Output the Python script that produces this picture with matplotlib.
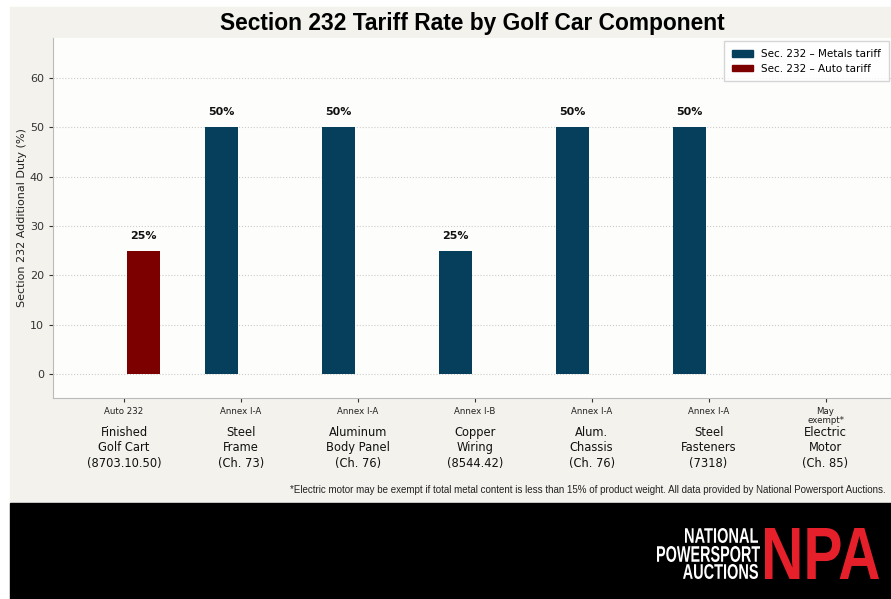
import matplotlib
matplotlib.use('Agg')
import matplotlib.pyplot as plt
from matplotlib.patches import Rectangle, Patch, PathPatch
from matplotlib.textpath import TextPath
from matplotlib.font_manager import FontProperties
from matplotlib.transforms import Affine2D, IdentityTransform
import numpy as np

# chart data
components = ['Finished\nGolf Cart\n(8703.10.50)', 'Steel\nFrame\n(Ch. 73)',
              'Aluminum\nBody Panel\n(Ch. 76)', 'Copper\nWiring\n(8544.42)',
              'Alum.\nChassis\n(Ch. 76)', 'Steel\nFasteners\n(7318)',
              'Electric\nMotor\n(Ch. 85)']
legal_basis = ['Auto 232', 'Annex I-A', 'Annex I-A', 'Annex I-B',
               'Annex I-A', 'Annex I-A', 'May\nexempt*']
metals_tariff = [0, 50, 50, 25, 50, 50, 0]
auto_tariff = [25, 0, 0, 0, 0, 0, 0]

metals_color = '#053f5c'
auto_color = '#7d0000'
bg_color = '#f3f2ed'

W, H = 891, 599
fig = plt.figure(figsize=(W / 100, H / 100), dpi=100)
fig.patch.set_facecolor('white')

# beige panel and black footer band
fig.patches.append(Rectangle((10 / W, 1 - 503 / H), 1, 496 / H,
                             transform=fig.transFigure, color=bg_color, zorder=-10))
fig.patches.append(Rectangle((10 / W, 0), 1, 96 / H,
                             transform=fig.transFigure, color='black', zorder=-10))

ax = fig.add_axes([53 / W, 1 - 398 / H, 1 - 53 / W, 360 / H])
ax.set_facecolor('#fdfdfc')

x = np.arange(len(components))
w = 0.28
off = 0.165
for i in range(len(x)):
    if metals_tariff[i] > 0:
        ax.bar(x[i] - off, metals_tariff[i], w, color=metals_color, zorder=3)
        ax.text(x[i] - off, metals_tariff[i] + 2, f'{metals_tariff[i]}%',
                ha='center', va='bottom', fontsize=8, fontweight='bold', color='#111111')
    if auto_tariff[i] > 0:
        ax.bar(x[i] + off, auto_tariff[i], w, color=auto_color, zorder=3)
        ax.text(x[i] + off, auto_tariff[i] + 2, f'{auto_tariff[i]}%',
                ha='center', va='bottom', fontsize=8, fontweight='bold', color='#111111')

ax.set_xlim(-0.607, 6.56)
ax.set_ylim(-4.9, 68.1)
ax.set_yticks([0, 10, 20, 30, 40, 50, 60])
ax.tick_params(axis='y', labelsize=8, colors='#333333', length=3)
ax.set_xticks(x)
ax.set_xticklabels([])
ax.tick_params(axis='x', length=3, colors='#333333')
ax.yaxis.grid(True, linestyle=':', color='#cccccc', linewidth=0.8, zorder=0)
ax.set_axisbelow(True)
for s in ['top', 'right']:
    ax.spines[s].set_visible(False)
for s in ['left', 'bottom']:
    ax.spines[s].set_color('#bbbbbb')
ax.set_ylabel('Section 232 Additional Duty (%)', fontsize=8, color='#222222', labelpad=2)

# two-level category labels
trans = ax.get_xaxis_transform()
for i in range(len(x)):
    ax.text(x[i], -0.025, legal_basis[i], transform=trans, ha='center', va='top',
            fontsize=6.2, color='#222222', linespacing=0.95)
    ax.text(x[i], -0.077, components[i], transform=trans, ha='center', va='top',
            fontsize=8.3, color='#111111', linespacing=1.25)

ax.set_title('Section 232 Tariff Rate by Golf Car Component', fontsize=16.4,
             fontweight='bold', family='Liberation Sans', pad=6)

handles = [Patch(color=metals_color, label='Sec. 232 – Metals tariff'),
           Patch(color=auto_color, label='Sec. 232 – Auto tariff')]
ax.legend(handles=handles, loc='upper right', fontsize=7.5, frameon=True,
          fancybox=False, edgecolor='#cccccc', bbox_to_anchor=(1.0, 0.997),
          borderaxespad=0.2, handlelength=2.0, handleheight=0.6,
          borderpad=0.75, labelspacing=0.45)

fig.text(886 / W, 1 - 490 / H,
         '*Electric motor may be exempt if total metal content is less than 15% of product weight. '
         'All data provided by National Powersport Auctions.',
         ha='right', va='center', fontsize=7, family='Liberation Sans', color='#222222')


# logo: text squeezed into pixel boxes (x0, x1, top, bottom in image pixels)
def logo_text(s, x0, x1, top, bottom, color):
    tp = TextPath((0, 0), s, size=1,
                  prop=FontProperties(family='Liberation Sans', weight='bold'))
    ext = tp.get_extents()
    sx = (x1 - x0) / ext.width
    sy = (bottom - top) / ext.height
    tr = Affine2D().translate(-ext.x0, -ext.y0).scale(sx, sy).translate(x0, H - bottom)
    fig.patches.append(PathPatch(tr.transform_path(tp), facecolor=color, edgecolor='none',
                                 transform=IdentityTransform()))


logo_text('NATIONAL', 685, 758, 528, 543, 'white')
logo_text('POWERSPORT', 657, 760, 546, 562, 'white')
logo_text('AUCTIONS', 683, 758, 564, 579, 'white')
logo_text('NPA', 765, 879, 528, 579, '#e5202a')

fig.savefig('out.png', dpi=100, facecolor=fig.get_facecolor())
